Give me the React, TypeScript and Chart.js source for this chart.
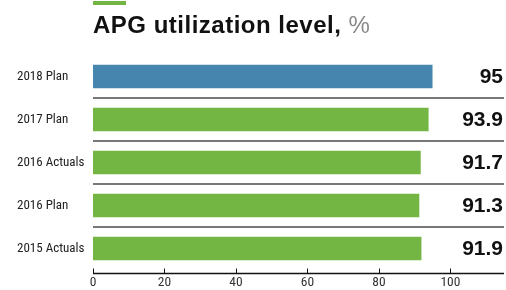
import React, { useEffect, useRef } from "react";
import { Chart, registerables } from "chart.js";

Chart.register(...registerables);

const categories = ["2018 Plan", "2017 Plan", "2016 Actuals", "2016 Plan", "2015 Actuals"];
const values = [95, 93.9, 91.7, 91.3, 91.9];
const valueLabels = ["95", "93.9", "91.7", "91.3", "91.9"];
const barColors = ["#4686AE", "#74B643", "#74B643", "#74B643", "#74B643"];
const titleMain = "APG utilization level,";
const titleUnit = " %";

const LABEL_FONT = '"Liberation Sans Narrow", "Roboto Condensed", Roboto, sans-serif';

const decor = {
  id: "decor",
  afterDraw(chart: any) {
    const { ctx, chartArea } = chart;
    const x = chart.scales.x;
    const y = chart.scales.y;
    ctx.save();
    // top accent bar
    ctx.fillStyle = "#74B643";
    ctx.fillRect(chartArea.left, 1, 33, 4);
    // title
    ctx.textBaseline = "alphabetic";
    ctx.textAlign = "left";
    try { (ctx as any).letterSpacing = "0.5px"; } catch (e) {}
    ctx.font = 'bold 24px "Liberation Sans", Arial, sans-serif';
    ctx.fillStyle = "#111";
    ctx.fillText(titleMain, chartArea.left, 33);
    const w = ctx.measureText(titleMain).width;
    ctx.font = '24px "Liberation Sans", Arial, sans-serif';
    ctx.fillStyle = "#8a8a8a";
    ctx.fillText(titleUnit, chartArea.left + w, 33);
    try { (ctx as any).letterSpacing = "0px"; } catch (e) {}
    // separators
    ctx.strokeStyle = "#777";
    ctx.lineWidth = 2;
    for (let i = 0; i < categories.length - 1; i++) {
      const yy = Math.round((y.getPixelForValue(i) + y.getPixelForValue(i + 1)) / 2);
      ctx.beginPath();
      ctx.moveTo(chartArea.left, yy);
      ctx.lineTo(chartArea.right, yy);
      ctx.stroke();
    }
    // x axis line (slightly below bars) with upward tick marks
    const axisY = chartArea.bottom + 3.5;
    ctx.strokeStyle = "#111";
    ctx.lineWidth = 1.5;
    ctx.beginPath();
    ctx.moveTo(chartArea.left, axisY);
    ctx.lineTo(chartArea.right, axisY);
    ctx.stroke();
    ctx.lineWidth = 1;
    for (const t of x.ticks) {
      const xx = Math.round(x.getPixelForValue(t.value)) + 0.5;
      ctx.beginPath();
      ctx.moveTo(xx, axisY - 5);
      ctx.lineTo(xx, axisY);
      ctx.stroke();
    }
    // value labels
    ctx.font = 'bold 21px "Liberation Sans", Arial, sans-serif';
    ctx.fillStyle = "#111";
    ctx.textAlign = "right";
    ctx.textBaseline = "middle";
    for (let i = 0; i < categories.length; i++) {
      ctx.fillText(valueLabels[i], chartArea.right - 1, y.getPixelForValue(i) + 1);
    }
    ctx.restore();
  },
};

export default function App() {
  const ref = useRef<HTMLCanvasElement | null>(null);
  useEffect(() => {
    document.body.style.margin = "0";
    const chart = new Chart(ref.current as HTMLCanvasElement, {
      type: "bar",
      data: {
        labels: categories,
        datasets: [
          {
            data: values,
            backgroundColor: barColors,
            borderWidth: 0,
            barPercentage: 0.55,
            categoryPercentage: 1,
          },
        ],
      },
      options: {
        indexAxis: "y",
        animation: false,
        responsive: true,
        maintainAspectRatio: false,
        layout: { padding: { top: 55, right: 2, left: 17, bottom: 0 } },
        plugins: { legend: { display: false }, tooltip: { enabled: false }, title: { display: false } },
        scales: {
          x: {
            min: 0,
            max: 115,
            grid: { display: false, drawTicks: false },
            border: { display: false },
            afterBuildTicks: (s: any) => {
              s.ticks = s.ticks.filter((t: any) => t.value <= 100);
            },
            afterFit: (s: any) => {
              s.height = 20;
            },
            ticks: {
              stepSize: 20,
              padding: 5,
              color: "#333",
              font: { family: LABEL_FONT, size: 13.5 },
            },
          },
          y: {
            grid: { display: false, drawTicks: false },
            border: { display: false },
            afterFit: (s: any) => {
              s.width = 76;
            },
            ticks: {
              padding: 10,
              crossAlign: "far",
              color: "#222",
              font: { family: LABEL_FONT, size: 13 },
            },
          },
        },
      },
      plugins: [decor],
    });
    return () => chart.destroy();
  }, []);
  return (
    <div style={{ position: "relative", width: 506, height: 290 }}>
      <canvas ref={ref} />
    </div>
  );
}
